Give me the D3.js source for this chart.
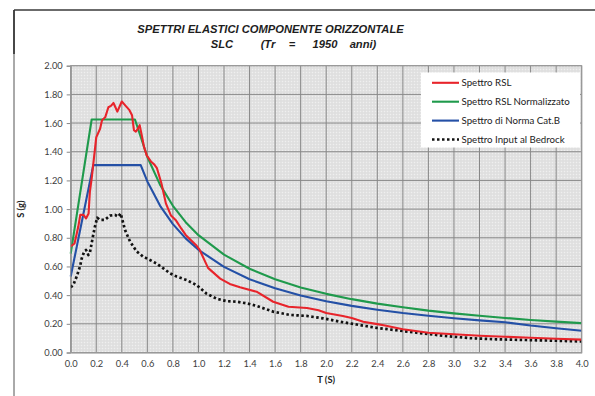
<!DOCTYPE html>
<html>
<head>
<meta charset="utf-8">
<script src="https://cdn.jsdelivr.net/npm/d3@7"></script>
<style>
  body { margin: 0; background: #fff; }
  svg { display: block; }
</style>
</head>
<body>
<svg id="chart" width="595" height="396"></svg>
<script>
// Spettro RSL
var rslT = [0.0, 0.03, 0.06, 0.075, 0.10, 0.12, 0.14, 0.15, 0.165, 0.18, 0.20, 0.23, 0.245, 0.27, 0.295,
  0.315, 0.335, 0.35, 0.365, 0.40, 0.425, 0.46, 0.48, 0.495, 0.51, 0.525, 0.54, 0.555, 0.575, 0.595,
  0.63, 0.655, 0.675, 0.71, 0.745, 0.785, 0.825, 0.865, 0.90, 0.94, 0.98, 1.01, 1.075, 1.17, 1.245,
  1.325, 1.455, 1.585, 1.705, 1.85, 1.94, 2.0, 2.13, 2.2, 2.29, 2.4, 2.45, 2.6, 2.8, 3.0, 3.2, 3.4,
  3.6, 3.8, 4.0];
var rslS = [0.74, 0.76, 0.88, 0.96, 0.96, 0.935, 0.97, 1.12, 1.22, 1.34, 1.50, 1.56, 1.62, 1.64, 1.71,
  1.72, 1.74, 1.71, 1.68, 1.75, 1.725, 1.69, 1.655, 1.55, 1.54, 1.56, 1.585, 1.52, 1.43, 1.375,
  1.33, 1.31, 1.285, 1.18, 1.04, 0.955, 0.92, 0.865, 0.82, 0.785, 0.75, 0.715, 0.59, 0.515, 0.478,
  0.455, 0.424, 0.354, 0.319, 0.31, 0.295, 0.275, 0.255, 0.24, 0.215, 0.198, 0.19, 0.162, 0.138, 0.127, 0.117, 0.11,
  0.103, 0.096, 0.09];

// Spettro RSL Normalizzato
var normT = [0.0, 0.164, 0.503, 0.6, 0.7, 0.8, 0.9, 1.0, 1.2, 1.4, 1.6, 1.8, 2.0, 2.2, 2.4, 2.6, 2.8,
  3.0, 3.2, 3.4, 3.6, 3.8, 4.0];
var normS = [0.69, 1.625, 1.625, 1.363, 1.169, 1.023, 0.909, 0.818, 0.682, 0.584, 0.511, 0.454, 0.409,
  0.372, 0.341, 0.315, 0.292, 0.273, 0.256, 0.241, 0.227, 0.215, 0.205];

// Spettro di Norma Cat.B
var catBT = [0.0, 0.177, 0.548, 0.6, 0.7, 0.8, 0.9, 1.0, 1.2, 1.4, 1.6, 1.8, 2.0, 2.2, 2.4, 2.6, 2.8,
  3.0, 3.2, 3.4, 3.6, 3.8, 4.0];
var catBS = [0.53, 1.307, 1.307, 1.193, 1.023, 0.895, 0.796, 0.716, 0.597, 0.511, 0.448, 0.398, 0.358,
  0.325, 0.298, 0.275, 0.256, 0.239, 0.224, 0.211, 0.188, 0.169, 0.152];

// Spettro Input al Bedrock
var bedT = [0.0, 0.02, 0.047, 0.073, 0.086, 0.104, 0.12, 0.138, 0.151, 0.172, 0.19, 0.208, 0.229, 0.268,
  0.308, 0.347, 0.372, 0.391, 0.425, 0.464, 0.516, 0.568, 0.62, 0.673, 0.725, 0.777, 0.829, 0.908,
  0.986, 1.064, 1.142, 1.221, 1.30, 1.377, 1.455, 1.585, 1.716, 1.847, 1.977, 2.107, 2.238, 2.394,
  2.55, 2.707, 2.916, 3.124, 3.333, 3.568, 3.803, 4.0];
var bedS = [0.455, 0.47, 0.53, 0.60, 0.655, 0.70, 0.715, 0.68, 0.70, 0.80, 0.88, 0.94, 0.925, 0.925,
  0.955, 0.96, 0.947, 0.97, 0.855, 0.775, 0.705, 0.668, 0.645, 0.62, 0.587, 0.552, 0.53, 0.505,
  0.47, 0.41, 0.375, 0.358, 0.354, 0.343, 0.325, 0.285, 0.262, 0.255, 0.238, 0.215, 0.195, 0.172,
  0.155, 0.138, 0.117, 0.10, 0.092, 0.087, 0.082, 0.077];

var xTicks = d3.range(0, 21).map(function (i) { return i * 0.2; });
var yTicks = d3.range(0, 11).map(function (i) { return i * 0.2; });

var titleLine1 = "SPETTRI ELASTICI COMPONENTE ORIZZONTALE";
var titleLine2 = ["SLC", "(Tr", "=", "1950", "anni)"];

var series = [
  {name: "Spettro RSL", t: rslT, s: rslS, color: "#e8242b", dash: null},
  {name: "Spettro RSL Normalizzato", t: normT, s: normS, color: "#1f9a4c", dash: null},
  {name: "Spettro di Norma Cat.B", t: catBT, s: catBS, color: "#2450a6", dash: null},
  {name: "Spettro Input al Bedrock", t: bedT, s: bedS, color: "#111111", dash: "2.5,2.5"}
];

var svg = d3.select("#chart");
var margin = {left: 70.7, right: 13.3, top: 65.7, bottom: 43.5};
var W = 595, H = 396;
var x = d3.scaleLinear().domain([0, 4]).range([margin.left, W - margin.right]);
var y = d3.scaleLinear().domain([0, 2]).range([H - margin.bottom, margin.top]);

// cornice esterna
svg.append("line").attr("x1", 14).attr("x2", 595).attr("y1", 10).attr("y2", 10)
  .attr("stroke", "#3a3a3a").attr("stroke-width", 1.6);
svg.append("line").attr("x1", 14).attr("x2", 14).attr("y1", 10).attr("y2", 54)
  .attr("stroke", "#333").attr("stroke-width", 1.8);
svg.append("line").attr("x1", 14).attr("x2", 14).attr("y1", 54).attr("y2", 396)
  .attr("stroke", "#555").attr("stroke-width", 1);

// titolo
var title = svg.append("g").attr("font-family", "'Liberation Sans', Arial, sans-serif")
  .attr("font-weight", "bold").attr("font-style", "italic").attr("font-size", 11.2).attr("fill", "#1e1e1e");
title.append("text").attr("x", 270.5).attr("y", 33).attr("text-anchor", "middle").text(titleLine1);
var line2X = [222, 268, 292, 325, 363];
title.selectAll("text.l2").data(titleLine2).enter().append("text").attr("class", "l2")
  .attr("x", function (d, i) { return line2X[i]; }).attr("y", 47.5)
  .attr("text-anchor", "middle").text(function (d) { return d; });

// sfondo area del grafico con trama fine
var defs = svg.append("defs");
var pat = defs.append("pattern").attr("id", "grain").attr("width", 3).attr("height", 3)
  .attr("patternUnits", "userSpaceOnUse");
pat.append("rect").attr("width", 3).attr("height", 3).attr("fill", "#e2e2e2");
pat.append("rect").attr("width", 1).attr("height", 1).attr("fill", "#efefef");
pat.append("rect").attr("x", 1.5).attr("y", 1.5).attr("width", 1).attr("height", 1).attr("fill", "#d7d7d7");

svg.append("rect").attr("x", x(0)).attr("y", y(2)).attr("width", x(4) - x(0)).attr("height", y(0) - y(2))
  .attr("fill", "url(#grain)");

// griglia
var grid = svg.append("g").attr("stroke", "#888").attr("stroke-width", 1);
grid.selectAll("line.v").data(xTicks).enter().append("line")
  .attr("x1", function (d) { return x(d); }).attr("x2", function (d) { return x(d); })
  .attr("y1", y(0)).attr("y2", y(2));
grid.selectAll("line.h").data(yTicks).enter().append("line")
  .attr("x1", x(0)).attr("x2", x(4))
  .attr("y1", function (d) { return y(d); }).attr("y2", function (d) { return y(d); });

// assi
var tickFont = "Lato, 'Open Sans', sans-serif";
var yAxis = svg.append("g").attr("transform", "translate(" + x(0) + ",0)")
  .call(d3.axisLeft(y).tickValues(yTicks).tickSize(4).tickPadding(4).tickFormat(d3.format(".2f")));
var xAxis = svg.append("g").attr("transform", "translate(0," + y(0) + ")")
  .call(d3.axisBottom(x).tickValues(xTicks).tickSize(0).tickPadding(8).tickFormat(d3.format(".1f")));
[xAxis, yAxis].forEach(function (a) {
  a.select(".domain").attr("stroke", "#888");
  a.selectAll(".tick line").attr("stroke", "#888");
  a.selectAll("text").attr("font-family", tickFont).attr("font-size", 9.3).attr("fill", "#3c3c3c");
});

svg.append("text").attr("x", (x(0) + x(4)) / 2).attr("y", 383).attr("text-anchor", "middle")
  .attr("font-family", tickFont).attr("font-weight", "bold").attr("font-size", 9.3).attr("fill", "#222")
  .text("T (S)");
svg.append("text").attr("transform", "translate(24," + (y(0) + y(2)) / 2 + ") rotate(-90)")
  .attr("text-anchor", "middle")
  .attr("font-family", tickFont).attr("font-weight", "bold").attr("font-size", 9.3).attr("fill", "#222")
  .text("S (g)");

// curve
var line = d3.line()
  .x(function (d) { return x(d[0]); })
  .y(function (d) { return y(d[1]); });

var plot = svg.append("g");
series.slice().reverse().forEach(function (sr) {
  var pts = sr.t.map(function (t, i) { return [t, sr.s[i]]; });
  plot.append("path").datum(pts).attr("d", line)
    .attr("fill", "none").attr("stroke", sr.color)
    .attr("stroke-width", sr.dash ? 2.7 : 2.1)
    .attr("stroke-linejoin", "round")
    .attr("stroke-dasharray", sr.dash);
});

// bordo area del grafico
svg.append("rect").attr("x", x(0)).attr("y", y(2)).attr("width", x(4) - x(0)).attr("height", y(0) - y(2))
  .attr("fill", "none").attr("stroke", "#999").attr("stroke-width", 1);

// legenda
var leg = svg.append("g").attr("transform", "translate(421,72.5)");
leg.append("rect").attr("width", 159).attr("height", 75).attr("fill", "#fff");
var rows = leg.selectAll("g.row").data(series).enter().append("g")
  .attr("transform", function (d, i) { return "translate(0," + (10.3 + i * 18.9) + ")"; });
rows.append("line").attr("x1", 11).attr("x2", 38).attr("y1", 0).attr("y2", 0)
  .attr("stroke", function (d) { return d.color; })
  .attr("stroke-width", function (d) { return d.dash ? 2.7 : 2.1; })
  .attr("stroke-dasharray", function (d) { return d.dash; });
rows.append("text").attr("x", 40.5).attr("y", 3.3)
  .attr("font-family", tickFont).attr("font-size", 9.7).attr("fill", "#222")
  .text(function (d) { return d.name; });
</script>
</body>
</html>
